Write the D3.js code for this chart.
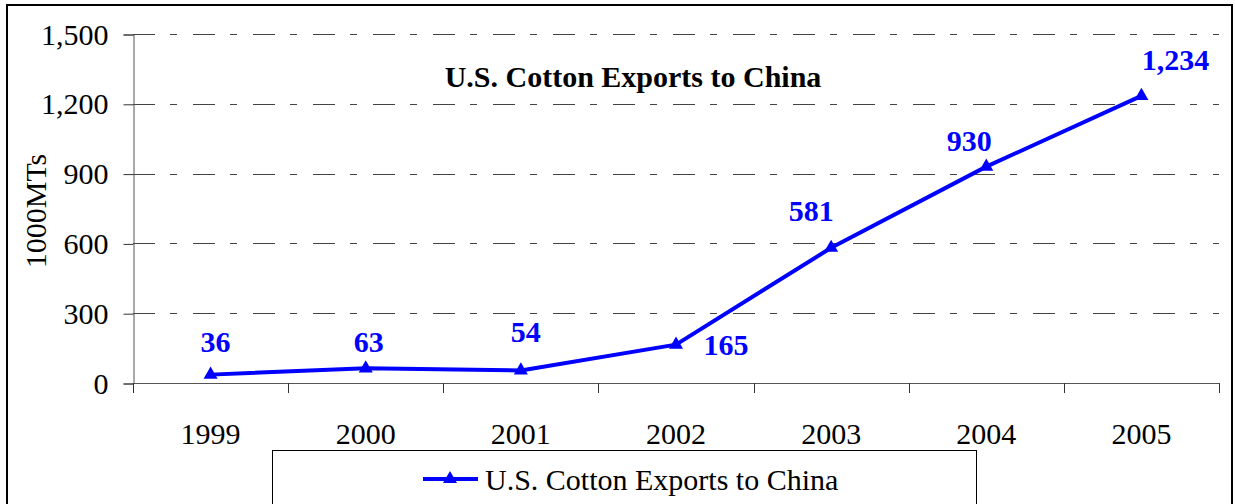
<!DOCTYPE html>
<html>
<head>
<meta charset="utf-8">
<script src="https://cdn.jsdelivr.net/npm/d3@7"></script>
<style>
    body { margin: 0; background: #fff; }
    text { font-family: "Liberation Serif", "Times New Roman", serif; }
</style>
</head>
<body>
<div id="chart"></div>
<script>
// data
const years = ['1999', '2000', '2001', '2002', '2003', '2004', '2005'];
const exports = [36, 63, 54, 165, 581, 930, 1234];
const yTicks = [0, 300, 600, 900, 1200, 1500];
const seriesName = 'U.S. Cotton Exports to China';
const chartTitle = 'U.S. Cotton Exports to China';
const yTitle = '1000MTs';
// label nudges (dx, dy from the point), as placed in the original
const labelNudge = [[5, -23], [3, -16], [5, -28], [50, 10], [-20, -27], [-17, -16], [34, -26]];

const width = 1235;
const height = 504;
const blue = '#0000ff';

let svg = d3.select('#chart')
    .append('svg')
    .attr('width', width)
    .attr('height', height);

// outer frame
svg.append('rect')
    .attr('x', 7).attr('y', 5)
    .attr('width', 1225).attr('height', 540)
    .attr('fill', '#fff')
    .attr('stroke', '#000')
    .attr('stroke-width', 2);

// scales
let x = d3.scaleBand().domain(years).range([133, 1219]);
let y = d3.scaleLinear().domain([0, 1500]).range([383, 34]);
let cx = d => x(d) + x.bandwidth() / 2;

// gridlines (dash dot style)
svg.append('g')
    .selectAll('line')
    .data(yTicks.filter(t => t > 0))
    .enter()
    .append('line')
    .attr('x1', 133).attr('x2', 1219)
    .attr('y1', d => Math.round(y(d)) + 0.5)
    .attr('y2', d => Math.round(y(d)) + 0.5)
    .attr('stroke', '#444')
    .attr('stroke-dasharray', '22,15,7,16');

// y axis
let yAxis = svg.append('g')
    .attr('transform', 'translate(133.5,0.5)')
    .call(d3.axisLeft(y).tickValues(yTicks).tickSize(10).tickPadding(15).tickFormat(d3.format(',')));
yAxis.select('.domain').attr('stroke', '#555');
yAxis.selectAll('.tick line').attr('stroke', '#333');
yAxis.selectAll('.tick text')
    .attr('font-size', '30px')
    .attr('fill', '#000')
    .attr('font-family', '"Liberation Serif", serif');

// x axis: line, boundary ticks, centred labels
svg.append('line')
    .attr('x1', 133).attr('x2', 1219)
    .attr('y1', 383.5).attr('y2', 383.5)
    .attr('stroke', '#555');

svg.append('g')
    .selectAll('line')
    .data(years.map(d => x(d)).concat([x.range()[1]]))
    .enter()
    .append('line')
    .attr('x1', d => Math.round(d) + 0.5).attr('x2', d => Math.round(d) + 0.5)
    .attr('y1', 383).attr('y2', 393)
    .attr('stroke', '#333');

svg.append('g')
    .selectAll('text')
    .data(years)
    .enter()
    .append('text')
    .attr('x', d => cx(d))
    .attr('y', 444)
    .attr('text-anchor', 'middle')
    .attr('font-size', '30px')
    .text(d => d);

// y title
svg.append('text')
    .attr('transform', 'translate(46,211) rotate(-90)')
    .attr('text-anchor', 'middle')
    .attr('font-size', '30px')
    .text(yTitle);

// chart title
svg.append('text')
    .attr('x', 633)
    .attr('y', 87)
    .attr('text-anchor', 'middle')
    .attr('font-size', '30px')
    .attr('font-weight', 'bold')
    .text(chartTitle);

// series line
let line = d3.line()
    .x((d, i) => cx(years[i]))
    .y(d => y(d));

svg.append('path')
    .datum(exports)
    .attr('d', line)
    .attr('fill', 'none')
    .attr('stroke', blue)
    .attr('stroke-width', 4)
    .attr('stroke-linejoin', 'round');

let tri = d3.symbol().type(d3.symbolTriangle).size(85);

svg.append('g')
    .selectAll('path')
    .data(exports)
    .enter()
    .append('path')
    .attr('d', tri)
    .attr('transform', (d, i) => `translate(${cx(years[i])},${y(d)})`)
    .attr('fill', blue);

// value labels
svg.append('g')
    .selectAll('text')
    .data(exports)
    .enter()
    .append('text')
    .attr('x', (d, i) => cx(years[i]) + labelNudge[i][0])
    .attr('y', (d, i) => y(d) + labelNudge[i][1])
    .attr('text-anchor', 'middle')
    .attr('font-size', '30px')
    .attr('font-weight', 'bold')
    .attr('fill', blue)
    .text(d => d3.format(',')(d));

// legend
let legend = svg.append('g');
legend.append('rect')
    .attr('x', 272.5).attr('y', 450.5)
    .attr('width', 704).attr('height', 80)
    .attr('fill', '#fff')
    .attr('stroke', '#000');
legend.append('line')
    .attr('x1', 423).attr('x2', 478)
    .attr('y1', 479).attr('y2', 479)
    .attr('stroke', blue)
    .attr('stroke-width', 4);
legend.append('path')
    .attr('d', tri)
    .attr('transform', 'translate(450,479)')
    .attr('fill', blue);
legend.append('text')
    .attr('x', 485)
    .attr('y', 490)
    .attr('font-size', '30px')
    .text(seriesName);
</script>
</body>
</html>
